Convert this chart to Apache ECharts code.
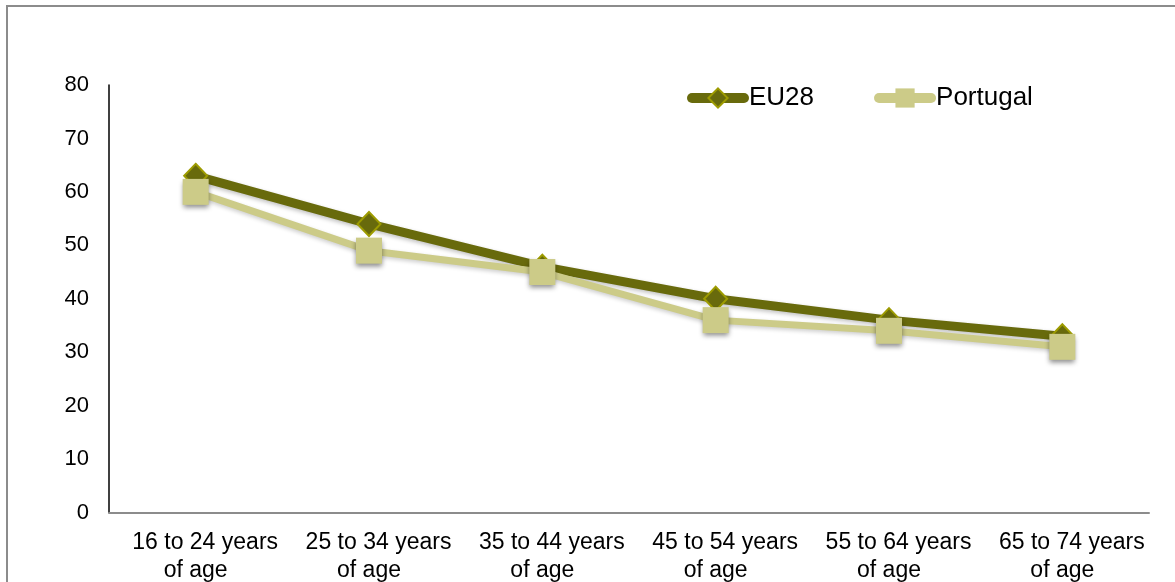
<!DOCTYPE html>
<html>
<head>
<meta charset="utf-8">
<script src="https://cdn.jsdelivr.net/npm/echarts@6/dist/echarts.min.js"></script>
<style>
  html, body { margin: 0; padding: 0; background: #ffffff; }
  #chart { width: 1175px; height: 582px; }
</style>
</head>
<body>
<div id="chart"></div>
<script>
// Age groups along the horizontal axis
const ageGroups = [
  '16 to 24 years\nof age',
  '25 to 34 years\nof age',
  '35 to 44 years\nof age',
  '45 to 54 years\nof age',
  '55 to 64 years\nof age',
  '65 to 74 years\nof age'
];

// Percentages per age group
const eu28 = [63, 54, 46, 40, 36, 33];
const portugal = [60, 49, 45, 36, 34, 31];

// Value axis ticks
const yTicks = [0, 10, 20, 30, 40, 50, 60, 70, 80];

const FONT = '"Liberation Sans", Arial, sans-serif';
const DARK = '#686a0c';
const LIGHT = '#cccb88';

const chart = echarts.init(document.getElementById('chart'), null, { renderer: 'canvas' });

chart.setOption({
  animation: false,
  backgroundColor: '#ffffff',
  graphic: [{
    type: 'rect',
    shape: { x: 7, y: 6, width: 1180, height: 600 },
    style: { fill: 'none', stroke: '#8c8c8c', lineWidth: 2 },
    silent: true,
    z: -10
  }],
  grid: { left: 109, top: 85, right: 26, bottom: 69, containLabel: false },
  legend: {
    left: 687,
    top: 85,
    padding: 0,
    itemWidth: 52,
    itemHeight: 24,
    itemGap: 60,
    lineStyle: { width: 10, cap: 'round' },
    textStyle: { fontFamily: FONT, fontSize: 26, color: '#000', padding: [0, 0, 0, 0] },
    data: ['EU28', 'Portugal']
  },
  xAxis: {
    type: 'category',
    data: ageGroups,
    boundaryGap: true,
    axisLine: { lineStyle: { color: '#8c8c8c', width: 2 } },
    axisTick: { show: false },
    axisLabel: {
      interval: 0,
      margin: 16,
      // first line sits a little right of the second, as wrapped labels do
      formatter: function (v) {
        const parts = v.split('\n');
        return '{top|' + parts[0] + '}\n{bot|' + parts[1] + '}';
      },
      rich: {
        top: { fontFamily: FONT, fontSize: 23, color: '#000', lineHeight: 28, padding: [0, 0, 0, 19] },
        bot: { fontFamily: FONT, fontSize: 23, color: '#000', lineHeight: 28 }
      }
    }
  },
  yAxis: {
    type: 'value',
    min: yTicks[0],
    max: yTicks[yTicks.length - 1],
    interval: 10,
    axisLine: { show: true, lineStyle: { color: '#000', width: 1.5 } },
    axisTick: { show: false },
    splitLine: { show: false },
    axisLabel: { fontFamily: FONT, fontSize: 22, color: '#000', margin: 20 }
  },
  series: [
    {
      name: 'EU28',
      type: 'line',
      data: eu28,
      symbol: 'diamond',
      symbolSize: [23, 24],
      lineStyle: { color: DARK, width: 9, shadowColor: 'rgba(0,0,0,0.25)', shadowBlur: 4, shadowOffsetY: 2 },
      itemStyle: { color: DARK, borderColor: '#9d9b00', borderWidth: 2 },
      z: 2
    },
    {
      name: 'Portugal',
      type: 'line',
      data: portugal,
      symbol: 'rect',
      symbolSize: 26,
      lineStyle: { color: LIGHT, width: 7, shadowColor: 'rgba(0,0,0,0.2)', shadowBlur: 4, shadowOffsetY: 2 },
      itemStyle: { color: LIGHT, borderWidth: 0, shadowColor: 'rgba(0,0,0,0.45)', shadowBlur: 5, shadowOffsetY: 3 },
      z: 3
    }
  ]
});
</script>
</body>
</html>
